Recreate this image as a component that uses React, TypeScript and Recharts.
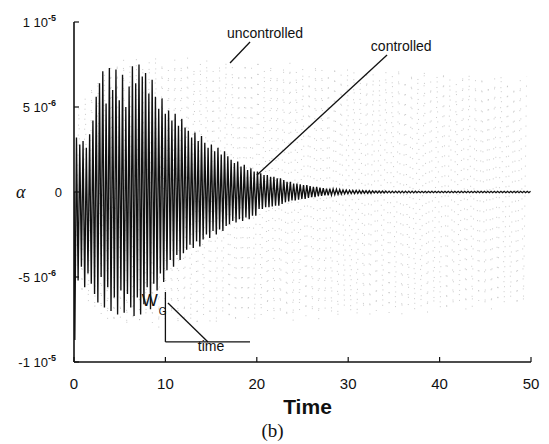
import React from 'react';
import { LineChart, Line, XAxis, YAxis, ReferenceLine, ReferenceDot } from 'recharts';

// ---------- data ----------
const xTicks = [0, 10, 20, 30, 40, 50];
const yTicks = [-10, -5, 0, 5, 10];
const yTickMain: Record<string, string> = { '10': '1 10', '5': '5 10', '0': '0', '-5': '-5 10', '-10': '-1 10' };
const yTickExp: Record<string, string> = { '10': '-5', '5': '-6', '0': '', '-5': '-6', '-10': '-5' };

const CTRL_PERIOD = 0.36;
const UNC_PERIOD = 0.7;

// controlled response: upper / lower peak of each cycle (units of 1e-6)
const ctrlHi = [
  3.2, 2.8, 3.0, 2.6, 3.4, 4.2, 5.6,
  6.4, 7.1, 5.2, 7.3, 6.0, 7.2,
  5.4, 6.9, 5.0, 6.2,
  7.4, 6.4, 7.5, 6.8,
  7.0, 5.8, 6.6,
  5.6, 4.9, 5.5, 4.6,
  4.8, 4.2, 4.6, 3.9, 4.3, 3.8,
  3.6, 3.2, 3.5, 3.0, 3.3,
  2.9, 2.6, 2.8, 2.4, 2.6, 2.2, 2.4, 2.1,
  1.9, 1.7, 1.8, 1.5, 1.6, 1.3, 1.4, 1.2, 1.2,
  1.1, 1.0, 1.0, 0.9, 0.9, 0.8, 0.8, 0.7,
  0.6, 0.6, 0.5, 0.5, 0.45, 0.4, 0.4, 0.35, 0.3, 0.3, 0.25,
  0.22, 0.2, 0.2, 0.18, 0.16, 0.14, 0.12, 0.11,
  0.1, 0.09, 0.09, 0.08, 0.08, 0.07, 0.07, 0.07, 0.06, 0.06,
  0.06, 0.06, 0.05, 0.05, 0.05, 0.05, 0.05, 0.05, 0.05, 0.05,
  0.05, 0.04, 0.04, 0.04, 0.04, 0.04, 0.04, 0.04, 0.04, 0.04,
  0.04, 0.04, 0.04, 0.04, 0.04, 0.04, 0.04, 0.04, 0.04, 0.04,
  0.04, 0.04, 0.04, 0.04, 0.04, 0.04, 0.04, 0.04, 0.04, 0.04,
  0.04, 0.04, 0.04, 0.04, 0.04, 0.04,
];
const ctrlLo = [
  -8.7, -5.2, -4.4, -5.6, -4.8, -5.4, -6.0,
  -6.5, -5.0, -6.8, -5.6, -7.0, -6.2,
  -7.2, -5.8, -7.1, -6.0,
  -6.8, -7.3, -6.2, -7.2,
  -6.6, -5.6, -6.9,
  -5.4, -5.8, -4.8, -5.3,
  -4.6, -4.0, -4.4, -3.7, -4.0, -3.6,
  -3.4, -3.1, -3.3, -2.9, -3.2,
  -2.8, -2.5, -2.7, -2.3, -2.5, -2.2, -2.3, -2.0,
  -1.9, -1.7, -1.8, -1.6, -1.7, -1.5, -1.6, -1.4, -1.4,
  -1.0, -1.0, -0.9, -0.9, -0.85, -0.8, -0.8, -0.7,
  -0.6, -0.55, -0.5, -0.5, -0.45, -0.4, -0.4, -0.35, -0.3, -0.3, -0.25,
  -0.22, -0.2, -0.2, -0.18, -0.16, -0.14, -0.12, -0.11,
  -0.1, -0.09, -0.09, -0.08, -0.08, -0.07, -0.07, -0.07, -0.06, -0.06,
  -0.06, -0.06, -0.05, -0.05, -0.05, -0.05, -0.05, -0.05, -0.05, -0.05,
  -0.05, -0.04, -0.04, -0.04, -0.04, -0.04, -0.04, -0.04, -0.04, -0.04,
  -0.04, -0.04, -0.04, -0.04, -0.04, -0.04, -0.04, -0.04, -0.04, -0.04,
  -0.04, -0.04, -0.04, -0.04, -0.04, -0.04, -0.04, -0.04, -0.04, -0.04,
  -0.04, -0.04, -0.04, -0.04, -0.04, -0.04,
];

// uncontrolled response: upper / lower peak of each cycle (units of 1e-6)
const uncHi = [
  5.0, 5.6, 6.2, 6.6, 7.0, 7.3, 7.6, 7.8, 7.5, 7.9,
  7.4, 7.7, 8.0, 7.6, 7.2, 7.8, 7.5, 7.9, 7.3, 7.6,
  7.8, 7.1, 7.5, 7.7, 7.4, 7.0, 7.6, 7.3, 7.8, 7.2,
  7.5, 6.9, 7.4, 7.6, 7.1, 7.3, 6.8, 7.5, 7.2, 7.0,
  7.4, 6.9, 7.3, 7.1, 6.8, 7.2, 7.0, 6.7, 7.1, 6.9,
  7.3, 6.6, 7.0, 6.8, 7.2, 6.5, 6.9, 7.1, 6.7, 6.4,
  6.9, 7.0, 6.6, 6.8, 6.3, 6.7, 6.9, 6.5, 6.2, 6.6, 6.8,
];
const uncLo = [
  -5.4, -6.0, -6.5, -6.9, -7.2, -7.5, -7.7, -7.4, -7.9, -7.6,
  -7.8, -7.3, -7.7, -8.0, -7.5, -7.2, -7.8, -7.4, -7.6, -7.9,
  -7.3, -7.6, -7.8, -7.2, -7.5, -7.7, -7.1, -7.4, -7.6, -7.3,
  -7.0, -7.5, -7.2, -7.4, -7.6, -7.0, -7.3, -7.1, -7.5, -6.9,
  -7.2, -7.4, -6.8, -7.1, -7.3, -6.9, -7.2, -7.0, -6.8, -7.1,
  -6.9, -7.2, -6.7, -7.0, -6.8, -7.1, -6.6, -6.9, -7.0, -6.7,
  -6.5, -6.9, -6.8, -6.4, -6.7, -6.9, -6.5, -6.6, -6.3, -6.7, -6.5,
];

// ---------- annotation placement (data units) ----------
const annotationTexts = [
  { t: 20.9, v: 9.35, text: 'uncontrolled', size: 14 },
  { t: 35.8, v: 8.6, text: 'controlled', size: 14 },
  { t: 15.0, v: -9.05, text: 'time', size: 14 },
  { t: 8.3, v: -6.35, text: 'W', size: 17 },
  { t: 9.7, v: -7.05, text: 'G', size: 10 },
];
const annotationSegments = [
  [{ x: 19.26, y: 8.82 }, { x: 17.07, y: 7.59 }],
  [{ x: 34.25, y: 8.06 }, { x: 20.02, y: 1.0 }],
  [{ x: 10.0, y: -5.88 }, { x: 10.0, y: -8.82 }],
  [{ x: 10.0, y: -8.82 }, { x: 19.26, y: -8.82 }],
  [{ x: 10.28, y: -6.53 }, { x: 14.66, y: -8.82 }],
];

function buildOsc(hi: number[], lo: number[], period: number) {
  const pts: { t: number; v: number }[] = [{ t: 0, v: 0 }];
  const n = Math.min(hi.length, lo.length);
  for (let i = 0; i < n; i++) {
    const t1 = i * period + period * 0.25;
    const t2 = i * period + period * 0.75;
    if (t1 <= 50) pts.push({ t: t1, v: lo[i] });
    if (t2 <= 50) pts.push({ t: t2, v: hi[i] });
  }
  return pts;
}

const controlledData = buildOsc(ctrlHi, ctrlLo, CTRL_PERIOD);
const uncontrolledData = buildOsc(uncHi, uncLo, UNC_PERIOD);

const SANS = '"Liberation Sans", Arial, Helvetica, sans-serif';
const SERIF = '"Liberation Serif", "Times New Roman", serif';

const YTick = (props: any) => {
  const { x, y, payload } = props;
  const key = String(payload.value);
  const main = yTickMain[key];
  const exp = yTickExp[key];
  if (!exp) {
    return (
      <text x={x + 6} y={y} dy={4.5} textAnchor="end" fontSize={13} fontFamily={SANS} fill="#111">
        {main}
      </text>
    );
  }
  return (
    <text x={x} y={y} dy={4.5} textAnchor="end" fontSize={13} fontFamily={SANS} fill="#111">
      {main}
      <tspan dy={-6} fontSize={9} fontWeight="bold">{exp}</tspan>
    </text>
  );
};

const XAxisLabel = (props: any) => {
  const vb = props.viewBox;
  const cx = vb.x + vb.width / 2;
  return (
    <g>
      <text x={cx + 5} y={vb.y + 52} textAnchor="middle" fontSize={21} fontWeight="bold" fontFamily={SANS} fill="#111">
        Time
      </text>
      <text x={cx - 30} y={vb.y + 75} textAnchor="middle" fontSize={19} fontFamily={SERIF} fill="#111">
        (b)
      </text>
    </g>
  );
};

export default function App() {
  return (
    <div style={{ position: 'absolute', left: 0, top: 0, width: 549, height: 444, background: '#fff' }}>
      <LineChart width={549} height={444} margin={{ top: 22, right: 18, bottom: 0, left: 0 }}>
        <XAxis
          dataKey="t"
          type="number"
          domain={[0, 50]}
          ticks={xTicks}
          allowDataOverflow
          height={82}
          tickSize={-5}
          tickMargin={21}
          axisLine={{ stroke: '#111', strokeWidth: 1.6 }}
          tickLine={{ stroke: '#111', strokeWidth: 1.2 }}
          tick={{ fontSize: 15, fontFamily: SANS, fill: '#111' }}
          label={{ content: XAxisLabel }}
        />
        <XAxis
          xAxisId="top"
          orientation="top"
          type="number"
          domain={[0, 50]}
          ticks={[10, 20, 30, 40]}
          height={0}
          tickSize={-5}
          tick={false}
          axisLine={{ stroke: '#111', strokeWidth: 1.6 }}
          tickLine={{ stroke: '#111', strokeWidth: 1.2 }}
        />
        <YAxis
          type="number"
          domain={[-10, 10]}
          ticks={yTicks}
          allowDataOverflow
          width={74}
          tickSize={-5}
          tickMargin={23}
          axisLine={{ stroke: '#111', strokeWidth: 1.6 }}
          tickLine={{ stroke: '#111', strokeWidth: 1.2 }}
          tick={<YTick />}
          label={{ value: 'α', position: 'insideLeft', offset: 16, fontSize: 18, fontStyle: 'italic', fontFamily: SERIF, fill: '#111' }}
        />
        <YAxis
          yAxisId="right"
          orientation="right"
          type="number"
          domain={[-10, 10]}
          ticks={[-5, 5]}
          width={0}
          tickSize={-5}
          tick={false}
          axisLine={{ stroke: '#111', strokeWidth: 1.6 }}
          tickLine={{ stroke: '#111', strokeWidth: 1.2 }}
        />
        <Line
          data={uncontrolledData}
          dataKey="v"
          type="linear"
          stroke="#bdbdbd"
          strokeWidth={0.8}
          strokeDasharray="1 9"
          dot={false}
          activeDot={false}
          isAnimationActive={false}
        />
        <Line
          data={controlledData}
          dataKey="v"
          type="linear"
          stroke="#111"
          strokeWidth={1.35}
          dot={false}
          activeDot={false}
          isAnimationActive={false}
        />
        {annotationSegments.map((seg, i) => (
          <ReferenceLine key={'s' + i} segment={seg} stroke="#111" strokeWidth={1.3} ifOverflow="visible" />
        ))}
        {annotationTexts.map((a, i) => (
          <ReferenceDot
            key={'t' + i}
            x={a.t}
            y={a.v}
            r={0}
            fill="none"
            stroke="none"
            ifOverflow="visible"
            label={{ value: a.text, position: 'center', fontSize: a.size, fontFamily: SANS, fill: '#111' }}
          />
        ))}
      </LineChart>
    </div>
  );
}
